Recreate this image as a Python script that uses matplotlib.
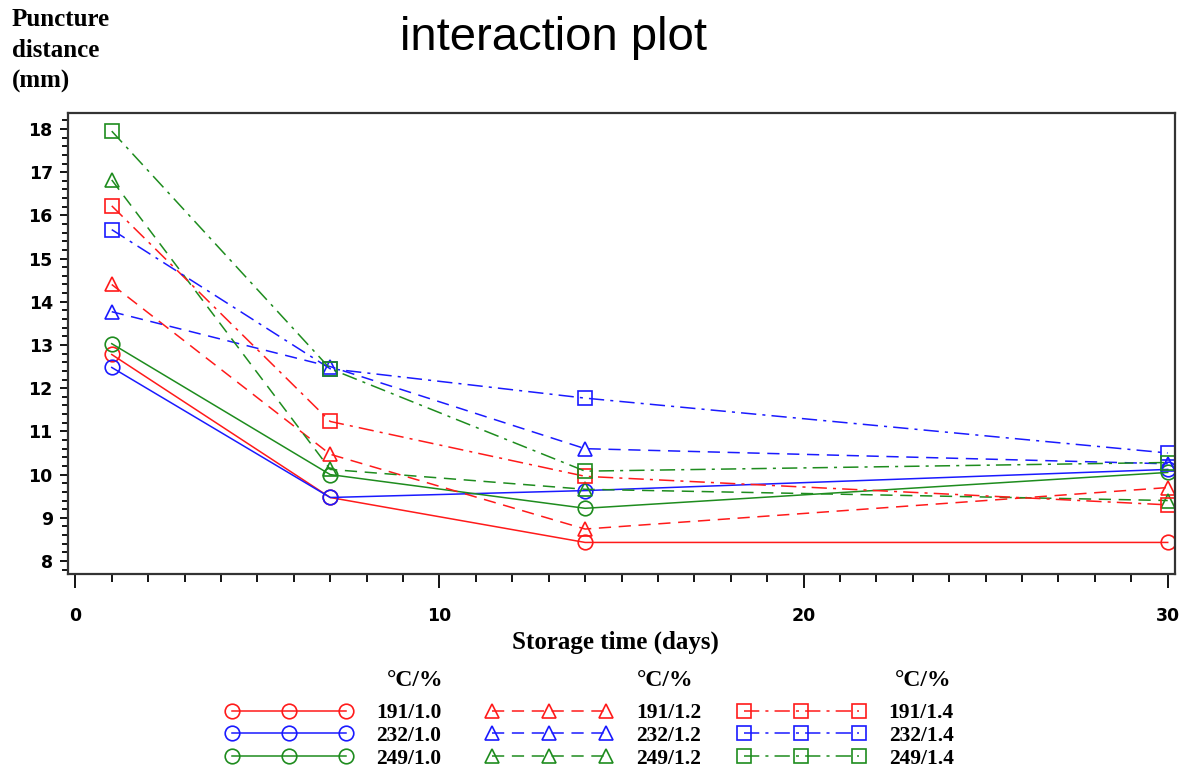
import matplotlib
matplotlib.use("Agg")
import matplotlib.pyplot as plt
from matplotlib.ticker import MultipleLocator

# storage days and puncture distance (mm) per temperature / pressure group
days = [1, 7, 14, 30]

r10 = [12.78, 9.47, 8.43, 8.43]
b10 = [12.48, 9.47, 9.63, 10.12]
g10 = [13.03, 10.0, 9.22, 10.05]
r12 = [14.40, 10.47, 8.74, 9.70]
b12 = [13.77, 12.50, 10.60, 10.25]
g12 = [16.82, 10.12, 9.66, 9.40]
r14 = [16.22, 11.23, 9.96, 9.30]
b14 = [15.67, 12.45, 11.77, 10.50]
g14 = [17.95, 12.45, 10.08, 10.28]

labels_10 = ["191/1.0", "232/1.0", "249/1.0"]
labels_12 = ["191/1.2", "232/1.2", "249/1.2"]
labels_14 = ["191/1.4", "232/1.4", "249/1.4"]

RED = "#ff1a1a"
BLUE = "#1a1aff"
GREEN = "#1e8c1e"
colors = [RED, BLUE, GREEN]

fig = plt.figure(figsize=(11.98, 7.77), dpi=100)
ax = fig.add_axes([0.0568, 0.2613, 0.9240, 0.5933])

groups = [
    ([r10, b10, g10], labels_10, "o", "-"),
    ([r12, b12, g12], labels_12, "^", (0, (8, 5))),
    ([r14, b14, g14], labels_14, "s", (0, (10, 4, 2, 4))),
]

handles = []
for series, labs, mk, ls in groups:
    hs = []
    for vals, lab, c in zip(series, labs, colors):
        h, = ax.plot(days, vals, color=c, linestyle=ls, linewidth=1.1,
                     marker=mk, markersize=10.5, markerfacecolor="none",
                     markeredgecolor=c, markeredgewidth=1.2, label=lab)
        hs.append(h)
    handles.append((hs, labs))

ax.set_xlim(-0.2, 30.2)
ax.set_ylim(7.7, 18.37)
ax.xaxis.set_major_locator(MultipleLocator(10))
ax.xaxis.set_minor_locator(MultipleLocator(1))
ax.yaxis.set_major_locator(MultipleLocator(1))
ax.yaxis.set_minor_locator(MultipleLocator(0.2))

ax.tick_params(axis="x", which="major", length=10, width=1.3, pad=14)
ax.tick_params(axis="x", which="minor", length=6, width=1.3)
ax.tick_params(axis="y", which="major", length=6, width=1.3, pad=5)
ax.tick_params(axis="y", which="minor", length=4, width=1.3)
for lbl in ax.get_xticklabels() + ax.get_yticklabels():
    lbl.set_fontweight("bold")
    lbl.set_fontsize(12.5)
    lbl.set_family("DejaVu Sans")

for sp in ax.spines.values():
    sp.set_linewidth(1.6)
    sp.set_color("#333333")

fig.text(0.4624, 0.951, "interaction plot", ha="center", va="center",
         fontsize=34, family="Liberation Sans")

fig.text(0.010, 0.990, "Puncture\ndistance\n(mm)", ha="left", va="top",
         fontsize=18, fontweight="bold", family="Liberation Serif",
         linespacing=1.45)

fig.text(0.514, 0.174, "Storage time (days)", ha="center", va="center",
         fontsize=18, fontweight="bold", family="Liberation Serif")

# legend columns: header text and entries
header_right = [444, 694, 952]
legend_x = [0.188, 0.405, 0.616]
for (hs, labs), lx, hx in zip(handles, legend_x, header_right):
    fig.text(hx / 1198, 1 - 680 / 777, "°C/%", ha="right", va="center",
             fontsize=17, fontweight="bold", family="Liberation Serif")
    fig.legend(hs, labs, loc="upper left", bbox_to_anchor=(lx, 0.095),
               frameon=False, numpoints=3, handlelength=5.9,
               handletextpad=1.1, labelspacing=0.12, borderpad=0,
               borderaxespad=0,
               prop={"family": "Liberation Serif", "weight": "bold",
                     "size": 15.5})

fig.savefig("out.png", dpi=100)
